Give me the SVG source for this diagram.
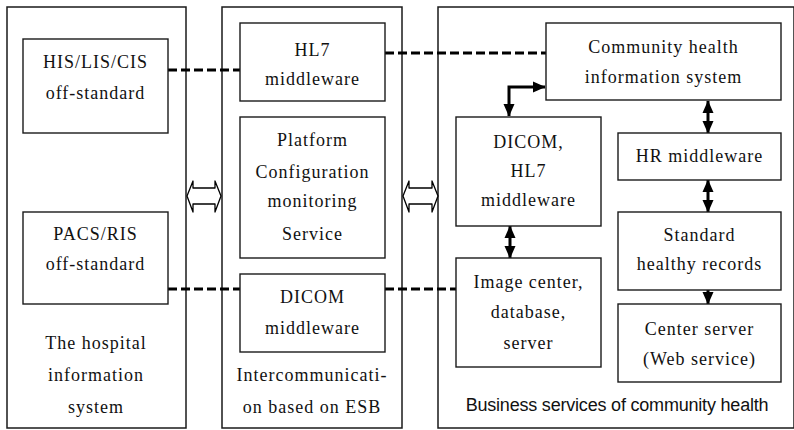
<svg xmlns="http://www.w3.org/2000/svg" width="794" height="430" viewBox="0 0 794 430">
<defs>
<style>
.panel{fill:none;stroke:#1a1a1a;stroke-width:1.5}
.box{fill:#fff;stroke:#1a1a1a;stroke-width:1.4}
.t{font-family:"Liberation Serif","Times New Roman",serif;font-size:18px;letter-spacing:1px;fill:#111;text-anchor:middle}
.s{font-family:"Liberation Sans",Arial,sans-serif;font-size:18px;letter-spacing:-0.2px;fill:#111;text-anchor:middle}
.dash{fill:none;stroke:#000;stroke-width:3;stroke-dasharray:9 4}
.arr{fill:none;stroke:#000;stroke-width:3}
.hollow{fill:#fff;stroke:#000;stroke-width:1.3;stroke-linejoin:round}
</style>
<marker id="ah" markerUnits="userSpaceOnUse" markerWidth="13" markerHeight="12" refX="12" refY="6" orient="auto-start-reverse" viewBox="0 0 13 12">
<path d="M0,0.5 L12.5,6 L0,11.5 z" fill="#000"/>
</marker>
</defs>

<g id="panels">
<rect class="panel" x="7" y="7" width="179" height="421"/>
<rect class="panel" x="222" y="7" width="180" height="421"/>
<rect class="panel" x="438" y="7" width="356" height="421"/>
<text class="t" x="96" y="349">The hospital</text>
<text class="t" x="96" y="381">information</text>
<text class="t" x="96" y="413">system</text>
<text class="t" x="312" y="381">Intercommunicati-</text>
<text class="t" x="312" y="413">on based on ESB</text>
<text class="s" x="617" y="411">Business services of community health</text>
</g>

<g id="connectors">
<path class="dash" d="M168,70 L240,70"/>
<path class="dash" d="M385,53 L546,53"/>
<path class="dash" d="M168,289 L240,289"/>
<path class="dash" d="M385,289 L456,289"/>
<path class="arr" d="M545,87 L509,87 L509,116" marker-start="url(#ah)" marker-end="url(#ah)"/>
<path class="arr" d="M708,101 L708,133" marker-start="url(#ah)" marker-end="url(#ah)"/>
<path class="arr" d="M708,180 L708,212" marker-start="url(#ah)" marker-end="url(#ah)"/>
<path class="arr" d="M708,290 L708,304" marker-end="url(#ah)"/>
<path class="arr" d="M510,226 L510,258" marker-start="url(#ah)" marker-end="url(#ah)"/>
<polygon class="hollow" points="187,196 193,181 193,188 215,188 215,181 221,196 215,212 215,204 193,204 193,212"/>
<polygon class="hollow" points="403,196 409,181 409,188 432,188 432,181 438,196 432,212 432,204 409,204 409,212"/>
</g>

<g id="his">
<rect class="box" x="23" y="39" width="145" height="94"/>
<text class="t" x="95.5" y="68">HIS/LIS/CIS</text>
<text class="t" x="95.5" y="99">off-standard</text>
</g>

<g id="pacs">
<rect class="box" x="23" y="212" width="145" height="92"/>
<text class="t" x="95.5" y="240">PACS/RIS</text>
<text class="t" x="95.5" y="270">off-standard</text>
</g>

<g id="hl7">
<rect class="box" x="240" y="23" width="145" height="78"/>
<text class="t" x="312.5" y="56">HL7</text>
<text class="t" x="312.5" y="85">middleware</text>
</g>

<g id="platform">
<rect class="box" x="240" y="117" width="145" height="141"/>
<text class="t" x="312.5" y="146">Platform</text>
<text class="t" x="312.5" y="178">Configuration</text>
<text class="t" x="312.5" y="207">monitoring</text>
<text class="t" x="312.5" y="240">Service</text>
</g>

<g id="dicom-mw">
<rect class="box" x="240" y="274" width="145" height="78"/>
<text class="t" x="312.5" y="303">DICOM</text>
<text class="t" x="312.5" y="334">middleware</text>
</g>

<g id="community">
<rect class="box" x="546" y="23" width="235" height="77"/>
<text class="t" x="663.5" y="53">Community health</text>
<text class="t" x="663.5" y="83">information system</text>
</g>

<g id="dicom-hl7">
<rect class="box" x="456" y="117" width="145" height="109"/>
<text class="t" x="528.5" y="148">DICOM,</text>
<text class="t" x="528.5" y="177">HL7</text>
<text class="t" x="528.5" y="206">middleware</text>
</g>

<g id="hr">
<rect class="box" x="618" y="133" width="163" height="47"/>
<text class="t" x="699.5" y="162">HR middleware</text>
</g>

<g id="standard">
<rect class="box" x="618" y="212" width="163" height="78"/>
<text class="t" x="699.5" y="241">Standard</text>
<text class="t" x="699.5" y="270">healthy records</text>
</g>

<g id="image-center">
<rect class="box" x="456" y="258" width="145" height="109"/>
<text class="t" x="528.5" y="288">Image center,</text>
<text class="t" x="528.5" y="318">database,</text>
<text class="t" x="528.5" y="349">server</text>
</g>

<g id="center-server">
<rect class="box" x="618" y="304" width="163" height="78"/>
<text class="t" x="699.5" y="335">Center server</text>
<text class="t" x="699.5" y="365">(Web service)</text>
</g>
</svg>
